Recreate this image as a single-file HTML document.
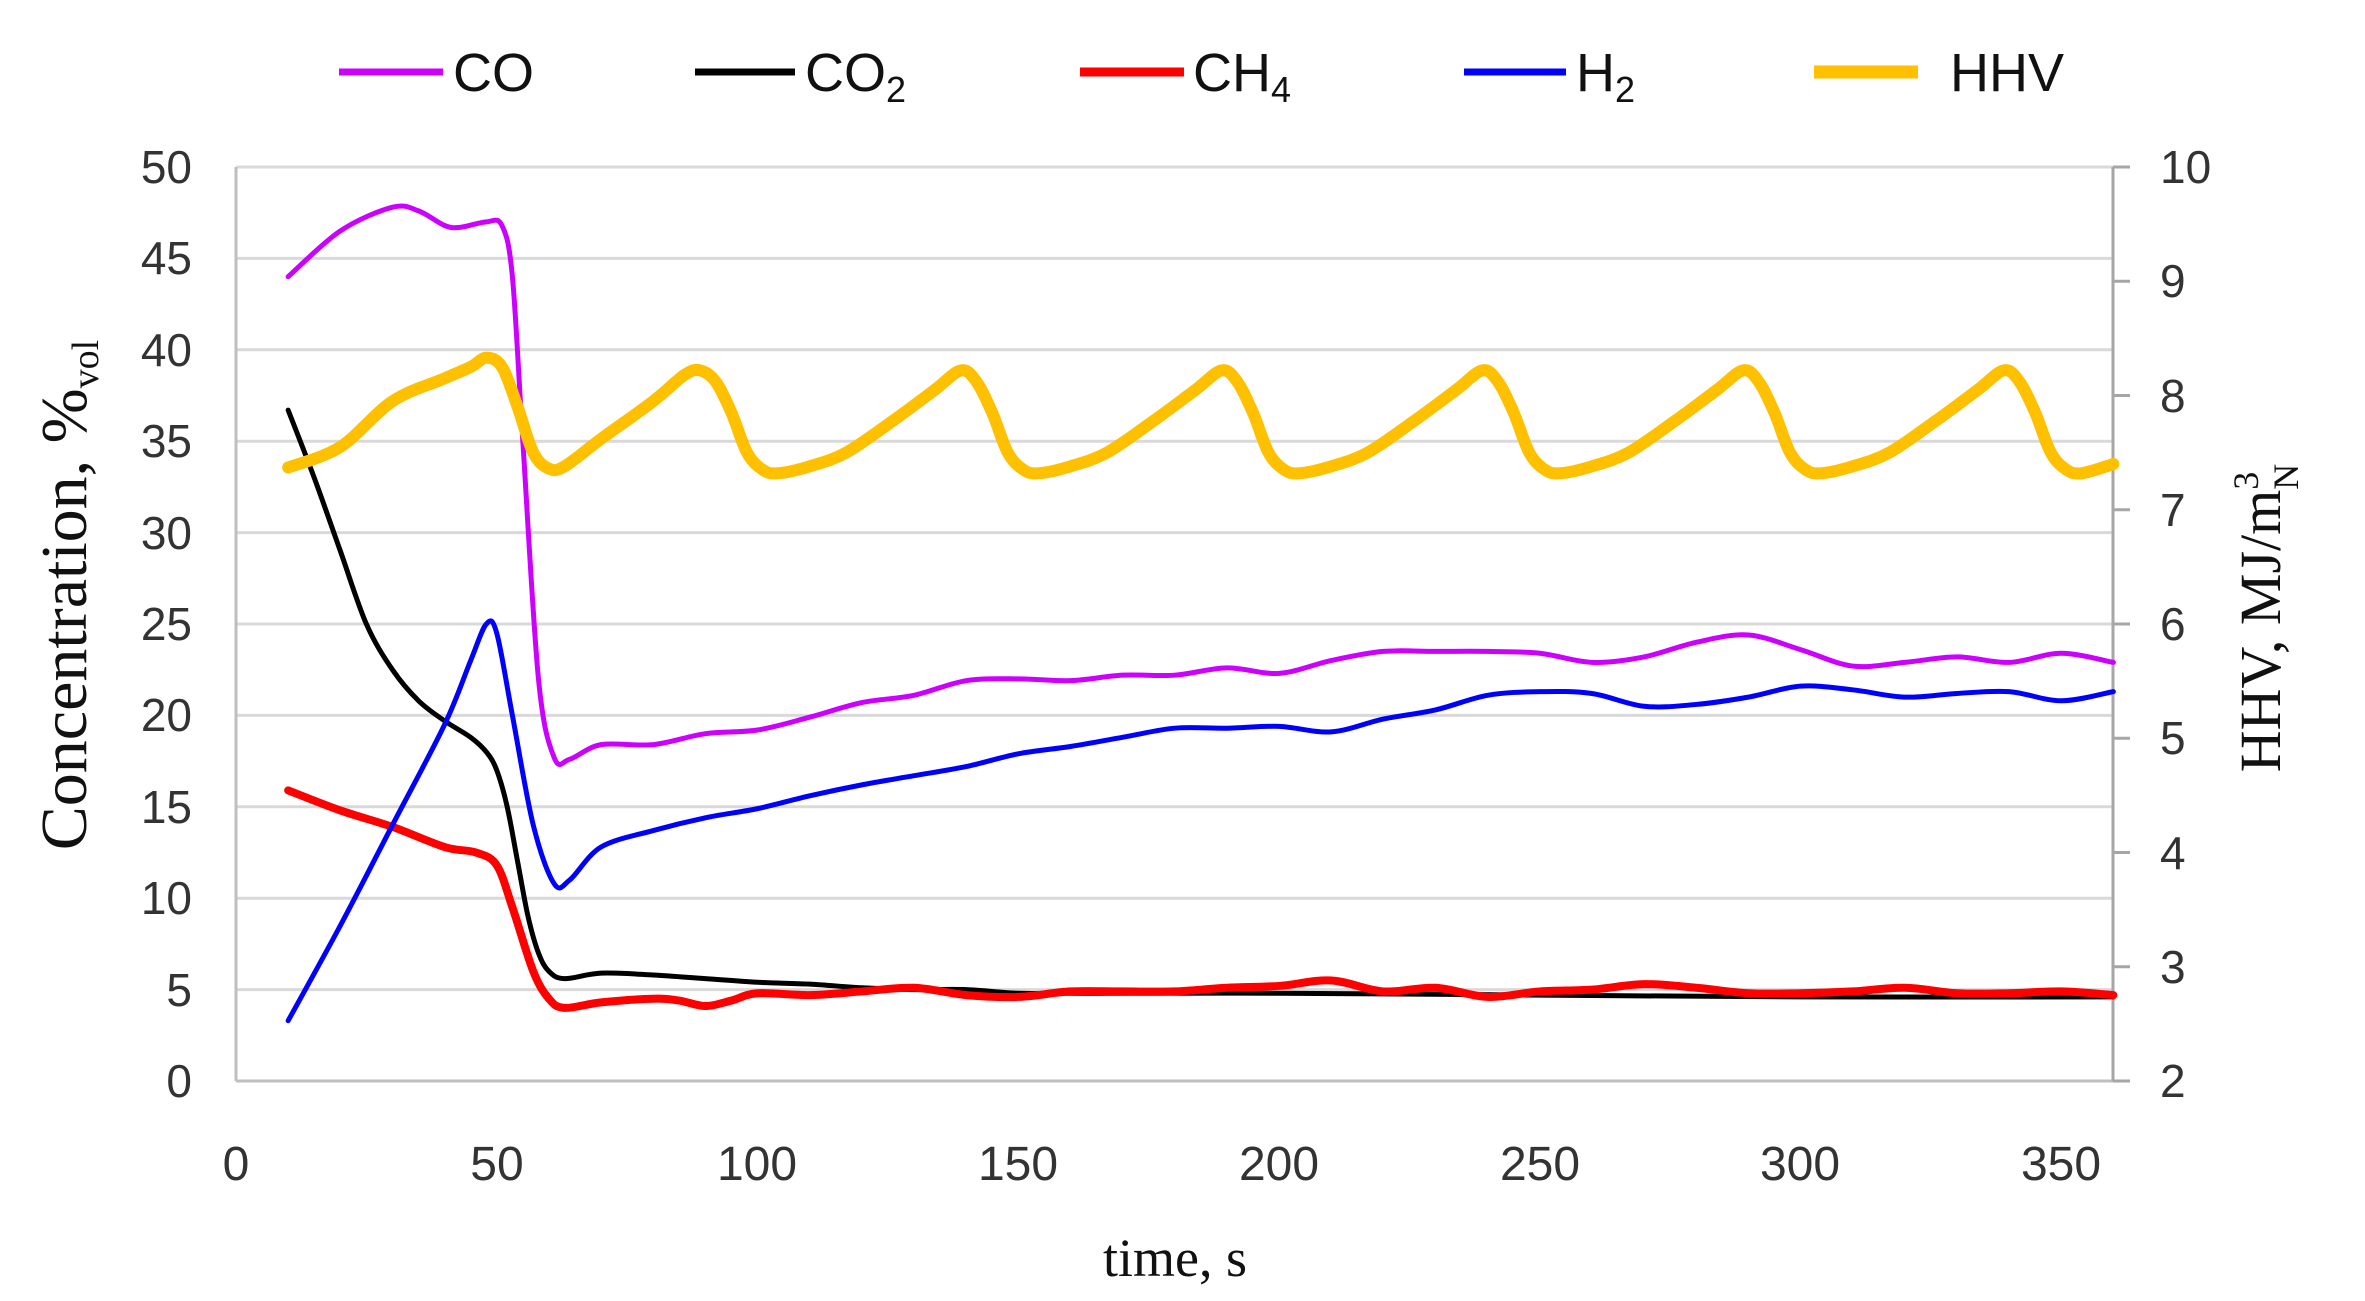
<!DOCTYPE html>
<html><head><meta charset="utf-8"><style>
html,body{margin:0;padding:0;background:#fff}
svg{display:block}
.t{font-family:"Liberation Sans Narrow","Liberation Sans",sans-serif;fill:#333}
.s{font-family:"Liberation Serif",serif;fill:#111}
</style></head><body>
<svg width="2365" height="1301" viewBox="0 0 2365 1301" xmlns="http://www.w3.org/2000/svg">
<rect width="2365" height="1301" fill="#fff"/>
<g stroke="#d9d9d9" stroke-width="3">
<line x1="236" x2="2113" y1="167" y2="167"/>
<line x1="236" x2="2113" y1="258.4" y2="258.4"/>
<line x1="236" x2="2113" y1="349.8" y2="349.8"/>
<line x1="236" x2="2113" y1="441.2" y2="441.2"/>
<line x1="236" x2="2113" y1="532.6" y2="532.6"/>
<line x1="236" x2="2113" y1="624" y2="624"/>
<line x1="236" x2="2113" y1="715.4" y2="715.4"/>
<line x1="236" x2="2113" y1="806.8" y2="806.8"/>
<line x1="236" x2="2113" y1="898.2" y2="898.2"/>
<line x1="236" x2="2113" y1="989.6" y2="989.6"/>
</g>
<g stroke="#bfbfbf" stroke-width="3">
<line x1="236" x2="236" y1="167" y2="1081"/>
<line x1="236" x2="2113" y1="1081" y2="1081"/>
</g>
<g stroke="#a6a6a6" stroke-width="3">
<line x1="2113" x2="2113" y1="167" y2="1081"/>
<line x1="2113" x2="2130" y1="167" y2="167"/>
<line x1="2113" x2="2130" y1="281.25" y2="281.25"/>
<line x1="2113" x2="2130" y1="395.5" y2="395.5"/>
<line x1="2113" x2="2130" y1="509.75" y2="509.75"/>
<line x1="2113" x2="2130" y1="624" y2="624"/>
<line x1="2113" x2="2130" y1="738.25" y2="738.25"/>
<line x1="2113" x2="2130" y1="852.5" y2="852.5"/>
<line x1="2113" x2="2130" y1="966.75" y2="966.75"/>
<line x1="2113" x2="2130" y1="1081" y2="1081"/>
</g>
<g class="t" font-size="46" text-anchor="end">
<text x="192" y="183">50</text><text x="192" y="274">45</text><text x="192" y="366">40</text>
<text x="192" y="457">35</text><text x="192" y="549">30</text><text x="192" y="640">25</text>
<text x="192" y="731">20</text><text x="192" y="823">15</text><text x="192" y="914">10</text>
<text x="192" y="1006">5</text><text x="192" y="1097">0</text>
</g>
<g class="t" font-size="46" text-anchor="start">
<text x="2160" y="183">10</text><text x="2160" y="297">9</text><text x="2160" y="412">8</text>
<text x="2160" y="526">7</text><text x="2160" y="640">6</text><text x="2160" y="754">5</text>
<text x="2160" y="869">4</text><text x="2160" y="983">3</text><text x="2160" y="1097">2</text>
</g>
<g class="t" font-size="48" text-anchor="middle">
<text x="236" y="1180">0</text><text x="497" y="1180">50</text><text x="757" y="1180">100</text>
<text x="1018" y="1180">150</text><text x="1279" y="1180">200</text><text x="1540" y="1180">250</text>
<text x="1800" y="1180">300</text><text x="2061" y="1180">350</text>
</g>
<text class="s" x="1175" y="1276" font-size="54" text-anchor="middle">time, s</text>
<text class="s" font-size="66" text-anchor="middle" transform="translate(86,595) rotate(-90)">Concentration, %<tspan font-size="38" dy="12">vol</tspan></text>
<text class="s" font-size="58" text-anchor="middle" transform="translate(2280,618) rotate(-90)">HHV, MJ/m<tspan font-size="36" dy="-22">3</tspan><tspan font-size="36" dx="-18" dy="40">N</tspan></text>
<g id="c" transform="translate(236,1081) scale(5.215,-18.28)" fill="none" stroke-linejoin="round" stroke-linecap="round">
<polyline vector-effect="non-scaling-stroke" stroke="#000" stroke-width="5" points="10,36.7 15,33 20,29 25,25 30,22.5 35,20.8 40,19.7 45,18.8 48,18 50,17 52,15 54,12 56,9 58,7 60,6 63,5.6 70,5.9 80,5.8 90,5.6 100,5.4 110,5.3 120,5.1 130,5 140,5 150,4.8 160,4.8 200,4.8 250,4.7 300,4.6 360,4.6"/>
<polyline vector-effect="non-scaling-stroke" stroke="#ff0000" stroke-width="8" points="10,15.9 20,14.8 30,13.9 40,12.8 46,12.5 50,11.8 53,9.5 57,6 60,4.5 63,4 70,4.3 80,4.5 85,4.4 90,4.1 95,4.4 100,4.8 110,4.7 120,4.9 130,5.1 140,4.7 150,4.6 160,4.9 170,4.9 180,4.9 190,5.1 200,5.2 210,5.5 220,4.9 230,5.1 240,4.6 250,4.9 260,5 270,5.3 280,5.1 290,4.8 300,4.8 310,4.9 320,5.1 330,4.8 340,4.8 350,4.9 360,4.7"/>
<polyline vector-effect="non-scaling-stroke" stroke="#0000ff" stroke-width="5" points="10,3.3 20,8.5 30,14 40,19.5 45,23 48,25 50,24.5 53,20 57,14 61,10.8 64,11 70,12.8 80,13.7 90,14.4 100,14.9 110,15.6 120,16.2 130,16.7 140,17.2 150,17.9 160,18.3 170,18.8 180,19.3 190,19.3 200,19.4 210,19.1 220,19.8 230,20.3 240,21.1 250,21.3 260,21.2 270,20.5 280,20.6 290,21 300,21.6 310,21.4 320,21 330,21.2 340,21.3 350,20.8 360,21.3"/>
<polyline vector-effect="non-scaling-stroke" stroke="#cc00ff" stroke-width="5" points="10,44 20,46.5 30,47.8 35,47.6 40,46.8 43,46.7 48,47 51,46.8 53,44 55,35 58,22 61,17.7 64,17.6 70,18.4 80,18.4 90,19 100,19.2 110,19.9 120,20.7 130,21.1 140,21.9 150,22 160,21.9 170,22.2 180,22.2 190,22.6 200,22.3 210,23 220,23.5 230,23.5 240,23.5 250,23.4 260,22.9 270,23.2 280,24 290,24.4 300,23.6 310,22.7 320,22.9 330,23.2 340,22.9 350,23.4 360,22.9"/>
</g>
<g id="h" transform="translate(236,1309.5) scale(5.215,-114.25)" fill="none" stroke-linejoin="round" stroke-linecap="round">
<polyline vector-effect="non-scaling-stroke" stroke="#ffc000" stroke-width="12" points="10,7.37 20,7.55 30,7.95 40,8.15 45,8.25 48,8.33 51,8.25 54,7.9 57,7.5 60,7.36 63,7.38 70,7.62 80,7.95 86,8.18 89,8.22 92,8.12 95,7.85 98,7.5 101,7.35 104,7.32 110,7.38 117,7.5 126,7.78 134,8.05 139,8.22 142,8.12 145,7.85 148,7.5 151,7.35 154,7.32 160,7.38 167,7.5 176,7.78 184,8.05 189,8.22 192,8.12 195,7.85 198,7.5 201,7.35 204,7.32 210,7.38 217,7.5 226,7.78 234,8.05 239,8.22 242,8.12 245,7.85 248,7.5 251,7.35 254,7.32 260,7.38 267,7.5 276,7.78 284,8.05 289,8.22 292,8.12 295,7.85 298,7.5 301,7.35 304,7.32 310,7.38 317,7.5 326,7.78 334,8.05 339,8.22 342,8.12 345,7.85 348,7.5 351,7.35 354,7.32 360,7.4"/>
</g>
<g stroke-linecap="butt">
<line x1="339" x2="443" y1="72" y2="72" stroke="#cc00ff" stroke-width="7"/>
<line x1="695" x2="795" y1="72" y2="72" stroke="#000" stroke-width="7"/>
<line x1="1080" x2="1184" y1="72" y2="72" stroke="#ff0000" stroke-width="9"/>
<line x1="1464" x2="1566" y1="72" y2="72" stroke="#0000ff" stroke-width="7"/>
<line x1="1814" x2="1918" y1="72" y2="72" stroke="#ffc000" stroke-width="13"/>
</g>
<g class="t" font-size="54" style="fill:#111">
<text x="453" y="91">CO</text>
<text x="805" y="91">CO<tspan font-size="36" dy="11">2</tspan></text>
<text x="1193" y="91">CH<tspan font-size="36" dy="11">4</tspan></text>
<text x="1576" y="91">H<tspan font-size="36" dy="11">2</tspan></text>
<text x="1950" y="91">HHV</text>
</g>
</svg>
<script>
(function(){
var ns="http://www.w3.org/2000/svg";
document.querySelectorAll("polyline").forEach(function(pl){
 var p=pl.getAttribute("points").trim().split(/\s+/).map(function(s){var a=s.split(",");return[+a[0],+a[1]];});
 var d="M"+p[0][0]+","+p[0][1];
 for(var i=0;i<p.length-1;i++){
  var p0=p[i-1]||p[i],p1=p[i],p2=p[i+1],p3=p[i+2]||p2;
  var c1x=p1[0]+(p2[0]-p0[0])/6,c1y=p1[1]+(p2[1]-p0[1])/6;
  var c2x=p2[0]-(p3[0]-p1[0])/6,c2y=p2[1]-(p3[1]-p1[1])/6;
  d+=" C"+c1x+","+c1y+" "+c2x+","+c2y+" "+p2[0]+","+p2[1];
 }
 var path=document.createElementNS(ns,"path");
 path.setAttribute("d",d);
 ["stroke","stroke-width","vector-effect"].forEach(function(a){path.setAttribute(a,pl.getAttribute(a));});
 path.setAttribute("fill","none");
 pl.parentNode.replaceChild(path,pl);
});
})();
</script>
</body></html>
